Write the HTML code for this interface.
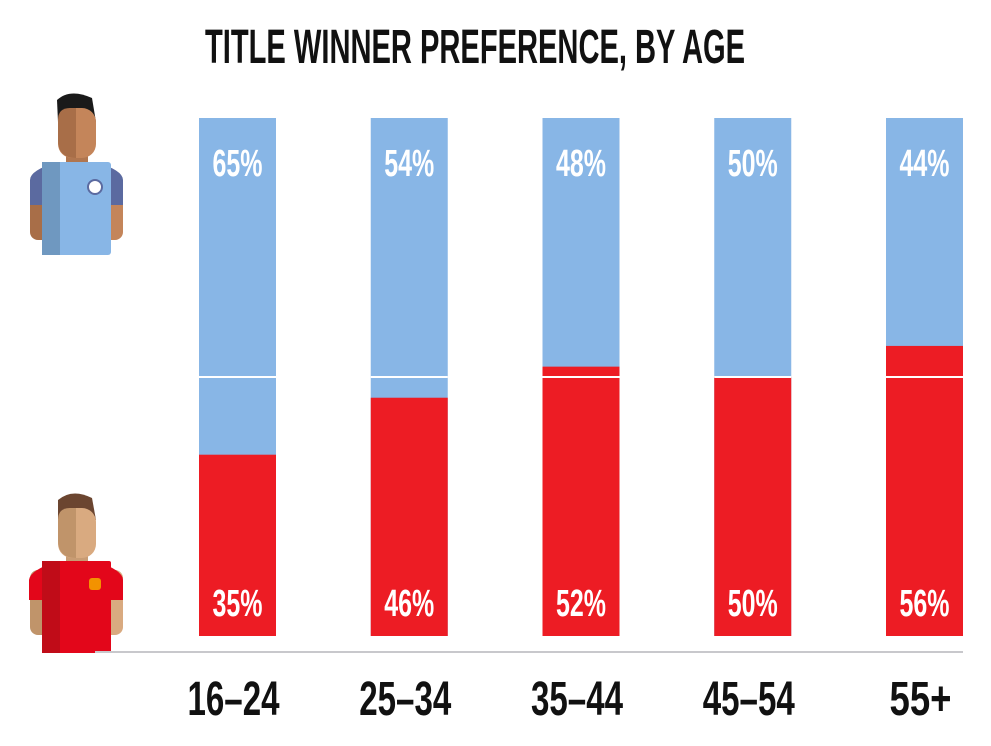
<!DOCTYPE html>
<html><head><meta charset="utf-8"><style>
html,body{margin:0;padding:0;background:#fff;}
svg{display:block;font-family:"Liberation Sans Narrow","Liberation Sans",sans-serif;font-weight:bold;}
</style></head><body>
<svg id="chart" width="991" height="746" viewBox="0 0 991 746" xmlns="http://www.w3.org/2000/svg">
<text x="205" y="63" font-size="48" textLength="540" lengthAdjust="spacingAndGlyphs" fill="#111">TITLE WINNER PREFERENCE, BY AGE</text>
<g>
<rect x="30" y="175" width="25" height="65" rx="8" fill="#a86e48"/>
<rect x="98" y="175" width="25" height="65" rx="8" fill="#c4855a"/>
<rect x="66" y="145" width="22" height="25" fill="#b07650"/>
<path d="M57 100 Q70 88 92 98 L96 122 L58 122 Z" fill="#1a1a1a"/>
<rect x="58" y="108" width="38" height="50" rx="14" fill="#c4855a"/>
<path d="M76 108 L76 158 Q58 158 58 140 L58 120 Q58 108 70 108 Z" fill="#a86e48"/>
<path d="M30 180 Q30 170 58 162 L95 162 Q123 170 123 180 L123 205 L30 205 Z" fill="#5b6aa0"/>
<rect x="42" y="162" width="69" height="93" rx="3" fill="#88b6e6"/>
<rect x="42" y="162" width="18" height="93" fill="#6f98c0"/>
<circle cx="95" cy="187" r="7" fill="#fff" stroke="#5b6aa0" stroke-width="2"/>
</g>
<g>
<rect x="30" y="570" width="25" height="65" rx="8" fill="#c0946a"/>
<rect x="98" y="570" width="25" height="65" rx="8" fill="#d9aa80"/>
<rect x="66" y="545" width="22" height="25" fill="#c89c74"/>
<path d="M58 500 Q72 488 92 498 L96 520 L58 520 Z" fill="#6b4530"/>
<rect x="58" y="508" width="38" height="50" rx="14" fill="#d9aa80"/>
<path d="M76 508 L76 558 Q58 558 58 540 L58 520 Q58 508 70 508 Z" fill="#c0946a"/>
<path d="M29 580 Q30 570 58 561 L95 561 Q123 570 123 580 L123 600 L29 600 Z" fill="#e3061a"/>
<rect x="42" y="561" width="69" height="92" rx="2" fill="#e3061a"/>
<rect x="42" y="561" width="18" height="92" fill="#c00c18"/>
<rect x="89" y="578" width="12" height="12" rx="3" fill="#f39200"/>
</g>
<line x1="95" y1="652" x2="963" y2="652" stroke="#c8c8cc" stroke-width="2"/>
<g id="bars"></g>
</svg>
<script>
const categories = ["16-24","25-34","35-44","45-54","55+"];
const blueValues = [65,54,48,50,44];
const redValues = [35,46,52,50,56];
const svg = document.getElementById('bars');
const NS = "http://www.w3.org/2000/svg";
const top0 = 118, bot0 = 636, H = bot0 - top0;
const xPos = i => 199 + i * 171.75;
const yScale = v => bot0 - v / 100 * H;
const bw = 77;
function mk(tag, attrs){const e=document.createElementNS(NS,tag);for(const k in attrs)e.setAttribute(k,attrs[k]);svg.appendChild(e);return e;}
categories.forEach((c,i)=>{
  const x = xPos(i);
  const b = mk('rect',{x:x,y:top0,width:bw,height:H,fill:'#88b6e6'});
  
  
  const ry = yScale(redValues[i]);
  const r = mk('rect',{x:x,y:ry,width:bw,height:bot0-ry,fill:'#ed1c24'});
  
  
  const m = mk('line',{x1:x,x2:x+bw,y1:yScale(50),y2:yScale(50),stroke:'#fff','stroke-width':2});
  
  
  const t1 = mk('text',{x:x+bw/2,y:176,'text-anchor':'middle','font-size':38,fill:'#fff',textLength:50,lengthAdjust:'spacingAndGlyphs'});
  t1.textContent = blueValues[i] + '%';
  
  
  const t2 = mk('text',{x:x+bw/2,y:616,'text-anchor':'middle','font-size':38,fill:'#fff',textLength:50,lengthAdjust:'spacingAndGlyphs'});
  t2.textContent = redValues[i] + '%';
  
  
  const w = c.length > 3 ? 92 : 62;
  const t3 = mk('text',{x:x+bw/2-4,y:715,'text-anchor':'middle','font-size':48,fill:'#111',textLength:w,lengthAdjust:'spacingAndGlyphs'});
  t3.textContent = c.replace('-', '\u2013');
  
  
});
</script>
</body></html>
